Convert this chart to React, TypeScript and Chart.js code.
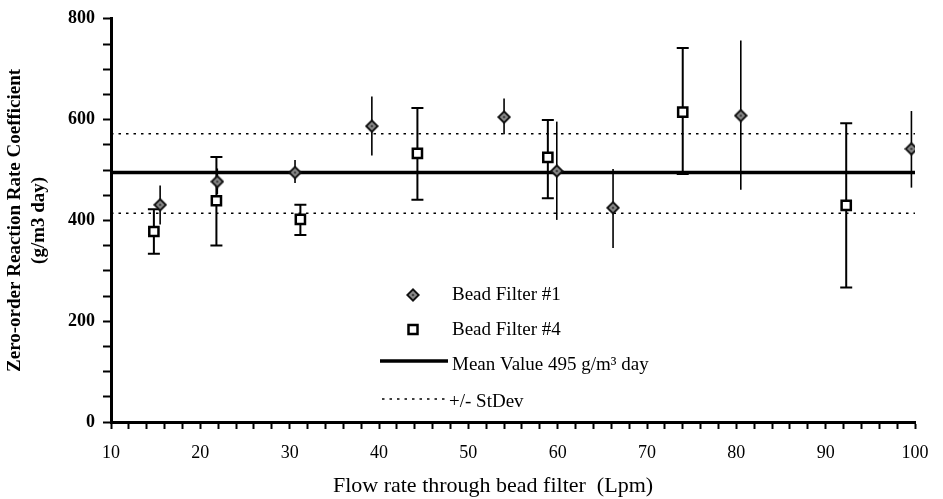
import React, { useEffect, useRef } from 'react';
import { Chart, registerables } from 'chart.js';

Chart.register(...registerables);

// Bead Filter #1 (diamonds): flow rate (Lpm), rate coefficient and +/- spread
const filter1Flow = [15.5, 21.9, 30.6, 39.2, 54.0, 59.9, 66.2, 80.5, 99.6];
const filter1Rate = [431, 477, 495, 587, 605, 498, 425, 608, 542];
const filter1Low = [392, 452, 474, 529, 571, 401, 345, 461, 465];
const filter1High = [469, 503, 520, 646, 642, 596, 502, 757, 617];

// Bead Filter #4 (open squares)
const filter4Flow = [14.8, 21.8, 31.2, 44.3, 58.9, 74.0, 92.3];
const filter4Rate = [378, 439, 402, 533, 525, 615, 430];
const filter4Low = [334, 350, 371, 441, 444, 492, 267];
const filter4High = [422, 526, 431, 623, 599, 742, 593];

// Mean and standard-deviation band
const meanRate = 495;
const stdevUpper = 572;
const stdevLower = 414;

// Axis ranges and tick spacing
const flowRange = [10, 100];
const flowMinorStep = 2;
const flowLabelStep = 10;
const rateRange = [0, 800];
const rateMinorStep = 50;
const rateLabelStep = 200;

const legendLabels = [
  'Bead Filter #1',
  'Bead Filter #4',
  'Mean Value 495 g/m\u00B3 day',
  '+/- StDev',
];

const yTitle = ['Zero-order Reaction Rate Coefficient', '(g/m3 day)'];
const xTitle = 'Flow rate through bead filter  (Lpm)';

const FONT = "'Liberation Serif', 'Times New Roman', serif";

function makeDiamond(): HTMLCanvasElement {
  const c = document.createElement('canvas');
  c.width = 14;
  c.height = 14;
  const g = c.getContext('2d')!;
  const dia = (r: number, color: string) => {
    g.beginPath();
    g.moveTo(7, 7 - r);
    g.lineTo(7 + r, 7);
    g.lineTo(7, 7 + r);
    g.lineTo(7 - r, 7);
    g.closePath();
    g.fillStyle = color;
    g.fill();
  };
  dia(7, '#111');
  dia(4.3, '#8a8a8a');
  dia(1.6, '#3a3a3a');
  return c;
}

type Bars = { low: number[]; high: number[]; cap: number };

export default function App() {
  const canvasRef = useRef<HTMLCanvasElement | null>(null);

  useEffect(() => {
    const canvas = canvasRef.current;
    if (!canvas) return;
    const diamond = makeDiamond();

    const errorBars: Record<string, Bars> = {
      [legendLabels[0]]: { low: filter1Low, high: filter1High, cap: 0 },
      [legendLabels[1]]: { low: filter4Low, high: filter4High, cap: 6 },
    };

    const errorBarPlugin = {
      id: 'errorBarPlugin',
      beforeDatasetDraw(chart: any, args: any) {
        const ds = chart.data.datasets[args.index];
        const bars = errorBars[ds.label];
        if (!bars) return;
        const { ctx } = chart;
        const xs = chart.scales.x;
        const ys = chart.scales.y;
        ctx.save();
        ctx.strokeStyle = '#000';
        ctx.lineWidth = bars.cap ? 2 : 1.6;
        ds.data.forEach((p: { x: number; y: number }, i: number) => {
          const px = xs.getPixelForValue(p.x);
          const lo = ys.getPixelForValue(bars.low[i]);
          const hi = ys.getPixelForValue(bars.high[i]);
          ctx.beginPath();
          ctx.moveTo(px, lo);
          ctx.lineTo(px, hi);
          if (bars.cap) {
            ctx.moveTo(px - bars.cap, lo);
            ctx.lineTo(px + bars.cap, lo);
            ctx.moveTo(px - bars.cap, hi);
            ctx.lineTo(px + bars.cap, hi);
          }
          ctx.stroke();
        });
        ctx.restore();
      },
    };

    const legendPlugin = {
      id: 'legendPlugin',
      afterDraw(chart: any) {
        const { ctx } = chart;
        ctx.save();
        ctx.font = `19px ${FONT}`;
        ctx.fillStyle = '#000';
        ctx.textBaseline = 'middle';
        ctx.textAlign = 'left';
        // diamond entry
        ctx.drawImage(diamond, 406, 288, 14, 14);
        ctx.fillText(legendLabels[0], 452, 295);
        // square entry
        ctx.strokeStyle = '#000';
        ctx.lineWidth = 2.5;
        ctx.fillStyle = '#fff';
        ctx.fillRect(408.5, 325, 9, 9);
        ctx.strokeRect(408.5, 325, 9, 9);
        ctx.fillStyle = '#000';
        ctx.fillText(legendLabels[1], 452, 330);
        // mean line entry
        ctx.lineWidth = 3.5;
        ctx.beginPath();
        ctx.moveTo(380, 361);
        ctx.lineTo(448, 361);
        ctx.stroke();
        ctx.fillText(legendLabels[2], 452, 365);
        // stdev entry
        ctx.lineWidth = 1.5;
        ctx.setLineDash([2.5, 5]);
        ctx.beginPath();
        ctx.moveTo(382, 399);
        ctx.lineTo(448, 399);
        ctx.stroke();
        ctx.setLineDash([]);
        ctx.fillText(legendLabels[3], 449, 402);
        // x-axis title
        ctx.font = `22px ${FONT}`;
        ctx.textAlign = 'center';
        ctx.fillText(xTitle, 493, 486);
        ctx.restore();
      },
    };

    const chart = new Chart(canvas, {
      type: 'scatter',
      data: {
        datasets: [
          {
            label: legendLabels[0],
            data: filter1Flow.map((x, i) => ({ x, y: filter1Rate[i] })),
            pointStyle: diamond as any,
            pointRadius: 7,
            order: 0,
          },
          {
            label: legendLabels[1],
            data: filter4Flow.map((x, i) => ({ x, y: filter4Rate[i] })),
            pointStyle: 'rect',
            pointRadius: 6.5,
            pointBackgroundColor: '#fff',
            pointBorderColor: '#000',
            pointBorderWidth: 2.5,
            order: 1,
          },
          {
            type: 'line',
            label: legendLabels[2],
            data: [
              { x: flowRange[0], y: meanRate },
              { x: flowRange[1], y: meanRate },
            ],
            borderColor: '#000',
            borderWidth: 3.5,
            pointRadius: 0,
            order: 5,
          },
          {
            type: 'line',
            label: legendLabels[3],
            data: [
              { x: flowRange[0], y: stdevUpper },
              { x: flowRange[1], y: stdevUpper },
            ],
            borderColor: '#000',
            borderWidth: 1.5,
            borderDash: [2.5, 5],
            pointRadius: 0,
            order: 6,
          },
          {
            type: 'line',
            label: legendLabels[3] + ' low',
            data: [
              { x: flowRange[0], y: stdevLower },
              { x: flowRange[1], y: stdevLower },
            ],
            borderColor: '#000',
            borderWidth: 1.5,
            borderDash: [2.5, 5],
            pointRadius: 0,
            order: 7,
          },
        ],
      } as any,
      options: {
        responsive: false,
        animation: false,
        layout: { padding: { top: 12, right: 28, left: 0, bottom: 0 } },
        plugins: {
          legend: { display: false },
          tooltip: { enabled: false },
        },
        scales: {
          x: {
            type: 'linear',
            min: flowRange[0],
            max: flowRange[1],
            afterFit(scale: any) {
              scale.height = 77;
            },
            ticks: {
              stepSize: flowMinorStep,
              autoSkip: false,
              maxRotation: 0,
              padding: 13,
              color: '#000',
              font: { family: FONT, size: 18 },
              callback: (v: any) => (Number(v) % flowLabelStep === 0 ? String(v) : ''),
            },
            grid: {
              drawOnChartArea: false,
              drawTicks: true,
              tickLength: 7,
              tickWidth: 2,
              tickColor: '#000',
            },
            border: { display: true, width: 3, color: '#000' },
            title: { display: false },
          },
          y: {
            type: 'linear',
            min: rateRange[0],
            max: rateRange[1],
            afterFit(scale: any) {
              scale.width = 111;
            },
            ticks: {
              stepSize: rateMinorStep,
              autoSkip: false,
              padding: 8,
              color: '#000',
              font: { family: FONT, size: 18, weight: 'bold' },
              callback: (v: any) => (Number(v) % rateLabelStep === 0 ? String(v) : ''),
            },
            grid: {
              drawOnChartArea: false,
              drawTicks: true,
              tickLength: 8,
              tickWidth: 2,
              tickColor: '#000',
            },
            border: { display: true, width: 3, color: '#000' },
            title: {
              display: true,
              text: yTitle,
              color: '#000',
              font: { family: FONT, size: 19, weight: 'bold', lineHeight: 1.25 },
              padding: { top: 3, bottom: 0 },
            },
          },
        },
      } as any,
      plugins: [errorBarPlugin, legendPlugin],
    });

    return () => chart.destroy();
  }, []);

  return (
    <div style={{ position: 'fixed', left: 0, top: 0, width: 943, height: 499, background: '#fff' }}>
      <canvas ref={canvasRef} width={943} height={499} style={{ display: 'block' }} />
    </div>
  );
}
